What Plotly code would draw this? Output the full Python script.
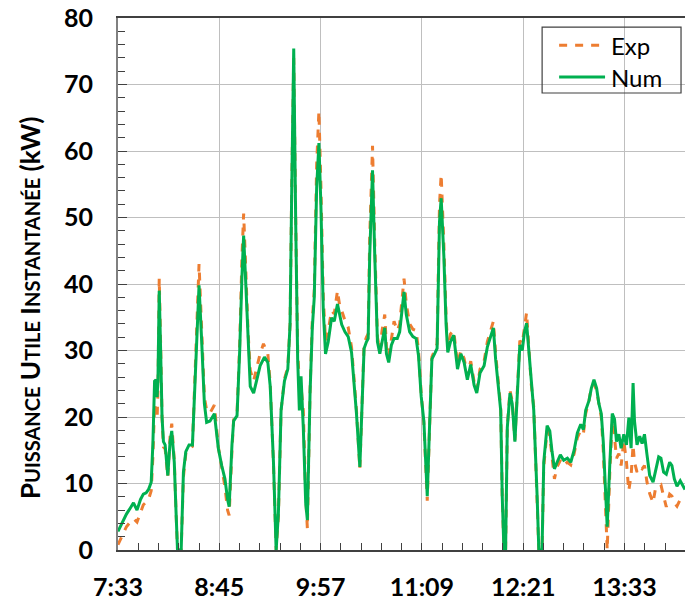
import plotly.graph_objects as go

# Time axis: minutes elapsed since 7:33
START = "7:33"
TICK_LABELS = ["7:33", "8:45", "9:57", "11:09", "12:21", "13:33"]

# Simulated useful power (kW)
T_NUM = [0, 3, 6, 9, 11, 13.5, 16, 18, 20, 21.7, 23.6, 24.8, 26, 27, 27.8, 28.4, 29.3, 30.3, 31.3, 32.3,
         33.5, 35.4, 37, 38.2, 40, 41.2, 42.3, 44.9, 46.5, 48.2, 50.5, 52.9, 54.5, 56, 57.6, 59.5, 61.4, 63,
         65.4, 68.5, 71.3, 73.7, 76, 77.9, 79, 81, 82.2, 84.6, 86.5, 88.1, 89.3, 90.5, 92.4, 94, 96.4, 98.7,
         101, 104.1, 106.5, 108.2, 110.5, 112.4, 114, 115.9, 118.3, 120.7, 122.3, 123.5, 124.9, 126.3, 127.7,
         128.9, 130.1, 131.7, 133.4, 134.6, 136.5, 138.1, 139.5, 141.2, 142.8, 144.2, 145.9, 147.5, 149.4,
         151.8, 153.7, 156, 157.7, 159, 161.3, 163.6, 166, 168.4, 169.5, 171.9, 173.5, 174.9, 176.6, 177.8,
         178.9, 180.9, 182.5, 184.4, 186.1, 187.7, 189.6, 190.8, 192.4, 194.3, 196.2, 198.5, 200.2, 201.8,
         203.3, 204.9, 207.3, 209.6, 211.9, 213.6, 215.5, 217.4, 219.1, 219.8, 221.4, 223.1, 225, 226.8,
         228.5, 229.7, 231.6, 233.2, 234.4, 236.3, 238.6, 240.3, 241.3, 243.7, 246, 248.3, 250.7, 253.1, 255,
         257.3, 260.2, 262.5, 264.9, 266.8, 268.4, 270.1, 272, 273.1, 274.3, 275.5, 276.7, 278.6, 280.2,
         282.1, 283.8, 285.6, 287.3, 288.9, 290.4, 292, 293.7, 295.5, 297.9, 299.1, 301.4, 302.6, 305, 306.9,
         308.5, 310.2, 312.1, 314.4, 316.8, 319.4, 321.8, 324.2, 326.5, 328.9, 330.8, 332.4, 334.8, 336.4,
         338.3, 340.2, 341.8, 343.5, 344.9, 346.6, 347.7, 349.6, 351.3, 352.9, 354.3, 356, 357.6, 359.5,
         361.4, 363.1, 364.7, 366.1, 367.1, 368.9, 370.8, 372.5, 374.2, 376, 377.9, 380.3, 381.9, 384.3,
         385.9, 387.8, 389.7, 392.1, 393.7, 395.4, 397.3, 399.6, 403]
P_NUM = [2.8, 4.2, 5.4, 6.4, 7.1, 6.0, 7.6, 8.4, 8.6, 9.1, 10.2, 16, 25.4, 25.6, 23, 25.6, 39.0, 30, 20, 16.3,
         15.8, 11.2, 16.3, 17.9, 13.2, 6, 0, 0, 11.7, 14.8, 15.8, 15.8, 24, 33.9, 39.8, 31.3, 22, 19.2,
         19.4, 20.5, 15.3, 12.7, 10.7, 7.6, 6.5, 15.8, 19.4, 20.2, 30, 41.1, 47.3, 41.6, 31.3, 24.6, 23.6, 25.6,
         27.7, 29, 28.2, 24.6, 13.2, 0, 5.5, 21, 25.4, 27.2, 33.9, 54.5, 75.4, 49.3, 28.7,
         21, 26.1, 18.4, 7.1, 4.5, 23.6, 33.4, 38, 54.5, 61.2, 51.9, 36.1, 29.5, 31.3,
         34.9, 34.4, 37, 34.9, 33.9, 32.8, 32.1, 29.7, 23.6, 20.5, 12.5, 23.6, 30.3, 31.3, 31.8,
         44.2, 57.1, 44.2, 31.3, 29.5, 31.3, 33.4, 29.5, 28.2, 30.8, 31.8, 31.8, 32.8, 35.9,
         38.8, 35.4, 32.8, 32.1, 31.8, 29.2, 23.1, 19.4, 11.7, 8.1, 18.4, 28.7, 29.5, 30.3,
         49.3, 52.9, 44.2, 33.9, 29.7, 31.3, 32.3, 28.7, 27.2, 29.5, 28.2, 25.6, 27.9, 24.8, 23.6,
         26.6, 27.7, 30.5, 32.1, 33.4, 28.7, 24.6, 21, 8.1, 0, 0, 18.4, 23.6, 22,
         16.3, 24.6, 30.8, 30, 32.8, 34.1, 29.7, 24.6, 21, 8.1, 0, 0, 13.2, 18.7, 17.9,
         14.8, 12.2, 13.2, 14.3, 13.5, 13.8, 13.2, 15, 17.6, 18.9, 18.1, 21, 22.5, 24.3,
         25.6, 24.3, 22, 20.5, 16.3, 7.1, 3.5, 13.2, 20.5, 19.7, 16.3, 17.4, 15.3, 17.4,
         15.8, 19.9, 15.3, 25.1, 19.4, 15.8, 17.1, 16, 17.4, 14.3, 11.2, 10.2, 11.7, 14,
         13.8, 11.7, 11.4, 13.2, 12.7, 10.7, 9.6, 10.4, 9.1]

# Measured useful power (kW)
T_EXP = [0, 3, 6, 9, 11, 13.5, 16, 18, 20, 21.7, 23.6, 24.8, 26, 27, 27.8, 28.4, 29.3, 30.3, 31.3, 32.3,
         33.5, 35.4, 37, 38.2, 40, 41.2, 42.3, 44.9, 46.5, 48.2, 50.5, 52.9, 54.5, 56, 57.6, 59.5, 61.4, 63,
         65.4, 68.5, 71.3, 73.7, 76, 77.9, 79, 81, 82.2, 84.6, 86.5, 88.1, 89.3, 90.5, 92.4, 94, 96.4, 98.7,
         101, 103.4, 106.5, 108.2, 110.5, 112.4, 114, 115.9, 118.3, 120.7, 122.3, 123.5, 124.9, 126.3, 127.7,
         128.9, 130.1, 131.7, 133.4, 134.6, 136.5, 138.1, 139.5, 141.2, 142.8, 144.2, 145.9, 147.5, 149.4,
         151.8, 153.7, 156, 157.7, 159, 161.3, 163.6, 166, 168.4, 169.5, 171.9, 173.5, 174.9, 176.6, 177.8,
         178.9, 180.9, 182.5, 184.4, 186.1, 187.7, 189.6, 190.8, 192.4, 194.3, 196.2, 198.5, 200.2, 201.8,
         203.3, 204.9, 207.3, 209.6, 211.9, 213.6, 215.5, 217.4, 219.1, 219.8, 221.4, 223.1, 225, 226.8,
         228.5, 229.7, 231.6, 233.2, 234.4, 236.3, 238.6, 240.3, 241.3, 243.7, 246, 248.3, 250.7, 253.1, 255,
         257.3, 260.2, 262.5, 264.9, 266.8, 268.4, 270.1, 272, 273.1, 274.3, 275.5, 276.7, 278.6, 280.2,
         282.1, 283.8, 285.6, 287.3, 288.9, 290.4, 292, 293.7, 295.5, 297.9, 299.1, 301.4, 302.6, 305, 306.9,
         308.5, 310.2, 312.1, 314.4, 316.8, 319.4, 321.8, 324.2, 326.5, 328.9, 330.8, 332.4, 334.8, 336.4,
         338.3, 340.2, 341.8, 343.5, 344.9, 346.6, 347.7, 349.6, 351.3, 352.9, 354.3, 356, 357.6, 359.5,
         361.4, 363, 364.7, 366.1, 367.1, 368.9, 370.8, 372.5, 374.2, 376, 377.9, 380.3, 381.9, 384.3,
         385.9, 387.8, 389.7, 392.1, 393.7, 395.4, 397.3, 399.6, 403]
P_EXP = [0.8, 2.2, 3.5, 4.3, 4.7, 4.2, 5.6, 6.8, 7.2, 7.6, 8.9, 14, 22, 20.8, 19.8, 24, 40.8, 31, 20, 15.5,
         15.2, 11, 17, 19, 13.5, 6, 0, 0, 11, 14.5, 15.3, 15.6, 25, 35, 43, 33, 23, 21,
         20.6, 21.8, 15.5, 12.5, 9.5, 6, 5.2, 15, 19.6, 20.5, 31, 44, 50.6, 44, 33, 27, 25.4, 27.5,
         29.5, 31, 29.5, 25, 13, 0, 5, 21, 25.7, 27.5, 34, 55, 74, 50, 30,
         25, 24.6, 21, 8, 3.2, 24, 34.5, 39, 58, 66, 55, 38, 31.5, 33,
         36, 35.5, 39, 36.5, 36, 34.5, 33.5, 30.5, 24, 21, 12.2, 23, 31, 32, 32.5,
         47, 60.8, 46, 32, 30, 33, 35.4, 30.5, 29, 32, 34.4, 33, 34, 37.5,
         40.8, 37, 34, 33.2, 33, 30, 23.5, 19, 11, 7.4, 18, 29, 30, 31,
         52, 56.5, 46, 35, 30.5, 32.5, 33, 29.5, 28, 30, 28.8, 26.2, 28.4, 25.3, 24,
         27.2, 28.4, 31.3, 33, 34.4, 29.5, 25.2, 21.5, 8, 0, 0, 18.6, 24, 22.4,
         16.5, 25, 31.5, 31, 33.5, 35.7, 30.5, 25, 21.5, 8, 0, 0, 12.5, 18, 17.2,
         14, 10.7, 12.5, 13.5, 12.7, 13.2, 12.8, 14.5, 16.9, 18, 17.5, 20.5, 22.5, 24.5,
         25, 24, 22, 20, 15, 5, 0, 12, 19.4, 17, 13.8, 14.5, 12.7, 16.5,
         13.2, 8.9, 11.2, 15.8, 13.2, 11.7, 12.5, 12.2, 12.7, 10.2, 8.5, 7.1, 9.1, 9.6,
         9.8, 8.1, 6.5, 8.4, 8.1, 7.1, 6.6, 7.6, 7.1]

SERIES = [("Exp", "#ED7D31", "8px,8px"), ("Num", "#00B050", "solid")]


def to_minutes(label):
    h, m = label.split(":")
    return int(h) * 60 + int(m)


t0 = to_minutes(START)
tick_vals = [to_minutes(s) - t0 for s in TICK_LABELS]

FONT = "Lato"
data = {"Exp": (T_EXP, P_EXP), "Num": (T_NUM, P_NUM)}

fig = go.Figure()
for name, color, dash in SERIES:
    xs, ys = data[name]
    fig.add_trace(go.Scatter(
        x=xs, y=ys, mode="lines", name=name, showlegend=False,
        line=dict(color=color, width=3, dash=dash),
    ))

# Boxed, see-through legend in the top-right corner (paper coordinates)
shapes = [dict(type="rect", xref="paper", yref="paper",
               x0=0.748, x1=0.993, y0=0.859, y1=0.983,
               line=dict(color="#404040", width=1.2), fillcolor="rgba(0,0,0,0)", layer="above")]
annotations = []
for i, (name, color, dash) in enumerate(SERIES):
    yy = 0.949 - i * 0.060
    shapes.append(dict(type="line", xref="paper", yref="paper",
                       x0=0.778, x1=0.859, y0=yy, y1=yy, layer="above",
                       line=dict(color=color, width=3, dash=dash)))
    annotations.append(dict(text=name, showarrow=False, xref="paper", yref="paper",
                            x=0.866, y=yy, xanchor="left", yanchor="middle",
                            font=dict(family=FONT, size=24, color="black")))

ytitle = ("P<span style='font-size:20px'>UISSANCE</span> "
          "U<span style='font-size:20px'>TILE</span> "
          "I<span style='font-size:20px'>NSTANTANÉE</span> (kW)")
annotations.append(dict(
    text=ytitle, textangle=-90, showarrow=False,
    xref="paper", yref="paper", x=-0.155, y=0.455,
    xanchor="center", yanchor="middle",
    font=dict(family=FONT, size=26, color="black", weight="bold"),
))

fig.update_layout(
    width=685, height=603,
    margin=dict(l=118, r=0, t=18, b=53),
    paper_bgcolor="white", plot_bgcolor="white",
    font=dict(family=FONT, color="black"),
    showlegend=False,
    shapes=shapes,
    annotations=annotations,
)

fig.update_xaxes(
    range=[0, 403],
    tickmode="array", tickvals=tick_vals, ticktext=TICK_LABELS,
    tickfont=dict(family=FONT, size=25, color="black", weight="bold"),
    ticks="inside", ticklen=7, tickcolor="#404040",
    ticklabelstandoff=14,
    showgrid=True, gridcolor="#BFBFBF", gridwidth=1,
    showline=True, linecolor="#404040", linewidth=1.5, mirror=True,
    zeroline=False,
    minor=dict(tickmode="linear", tick0=0, dtick=14.4, ticks="inside", ticklen=7,
               tickcolor="#404040", showgrid=False),
)
fig.update_yaxes(
    range=[0, 80], dtick=10, tick0=0,
    tickfont=dict(family=FONT, size=25, color="black", weight="bold"),
    ticks="inside", ticklen=9, tickcolor="#404040",
    ticklabelstandoff=18,
    showgrid=True, gridcolor="#BFBFBF", gridwidth=1,
    showline=True, linecolor="#808080", linewidth=2,
    zeroline=False,
    minor=dict(dtick=2, ticks="inside", ticklen=7, tickcolor="#404040", showgrid=False),
)

fig.write_html("out.html")
